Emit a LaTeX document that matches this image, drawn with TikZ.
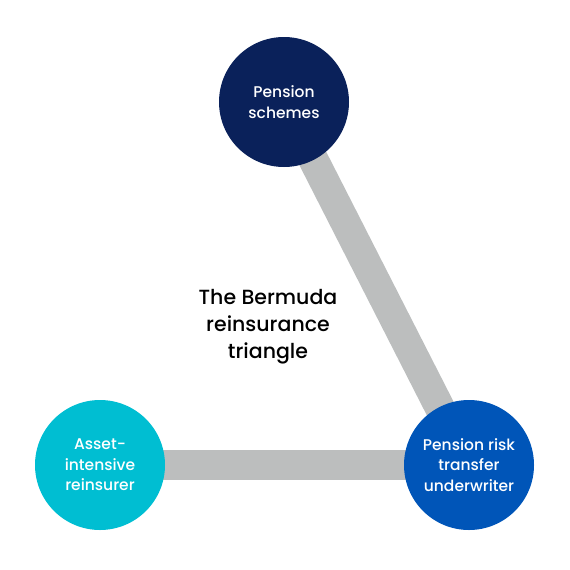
\documentclass[tikz,border=0pt]{standalone}
\usepackage{fontspec}
\setmainfont{Poppins}[UprightFont={* Medium}]
\definecolor{navy}{HTML}{0A215A}
\definecolor{rblue}{HTML}{0055B8}
\definecolor{cyanc}{HTML}{00BED2}
\definecolor{barg}{HTML}{BCBEBE}
\begin{document}
\begin{tikzpicture}[x=1pt,y=-1pt,
  circ/.style={circle,minimum size=130pt,inner sep=0pt,text=white,align=center,font=\fontsize{15.5}{20.5}\selectfont},
  bar/.style={draw=barg,line width=30pt}]
\useasboundingbox (0,0) rectangle (570,570);
\coordinate (ps) at (284,102);
\coordinate (ai) at (100,465);
\coordinate (pr) at (469,465);
\draw[bar] (ps) -- (pr);
\draw[bar] (ai) -- (pr);
\node[circ,fill=navy] (psn) at (ps) {Pension\\schemes};
\node[circ,fill=cyanc] (ain) at (ai) {Asset-\\intensive\\reinsurer};
\node[circ,fill=rblue] (prn) at (pr) {Pension risk\\transfer\\underwriter};
\node[align=center,font=\fontsize{20.5}{27}\selectfont] (title) at (268,327) {The Bermuda\\reinsurance\\triangle};
\end{tikzpicture}
\end{document}
